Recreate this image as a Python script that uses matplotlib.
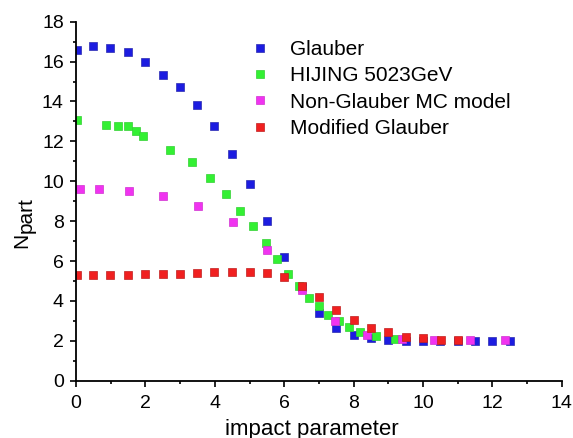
import numpy as np
import matplotlib.pyplot as plt
from matplotlib.ticker import MultipleLocator

plt.rcParams['font.family'] = ['Liberation Sans', 'DejaVu Sans']

# Glauber
b_gl = [0.03, 0.49, 0.99, 1.5, 2.0, 2.5, 3.0, 3.5, 3.98, 4.5, 5.0, 5.5, 6.0, 6.5,
        7.0, 7.5, 8.0, 8.5, 9.0, 9.5, 10.0, 10.5, 11.0, 11.5, 12.0, 12.5]
n_gl = [16.57, 16.8, 16.67, 16.5, 16.0, 15.35, 14.73, 13.83, 12.77, 11.37, 9.87, 8.0, 6.22, 4.7,
        3.4, 2.65, 2.28, 2.12, 2.03, 2.0, 2.0, 2.0, 2.0, 2.0, 2.0, 2.0]

# HIJING 5023GeV
b_hj = [0.03, 0.87, 1.21, 1.49, 1.73, 1.94, 2.72, 3.33, 3.85, 4.31, 4.74, 5.1, 5.47, 5.8,
        6.12, 6.42, 6.7, 7.0, 7.27, 7.57, 7.86, 8.19, 8.63, 9.19]
n_hj = [13.08, 12.82, 12.78, 12.78, 12.5, 12.25, 11.58, 10.97, 10.15, 9.37, 8.49, 7.74, 6.9, 6.09,
        5.37, 4.74, 4.15, 3.73, 3.28, 2.98, 2.68, 2.43, 2.25, 2.07]

# Non-Glauber MC model
b_ng = [0.13, 0.67, 1.53, 2.52, 3.53, 4.51, 5.5, 6.5, 7.47, 8.39, 9.38, 10.32, 11.34, 12.35]
n_ng = [9.62, 9.63, 9.52, 9.25, 8.78, 7.98, 6.57, 4.55, 2.98, 2.28, 2.07, 2.02, 2.02, 2.02]

# Modified Glauber
b_mg = [0.03, 0.49, 0.99, 1.5, 2.0, 2.5, 3.0, 3.5, 3.99, 4.5, 5.0, 5.5, 6.0, 6.5,
        7.0, 7.5, 8.0, 8.5, 9.0, 9.5, 10.0, 10.51, 11.0]
n_mg = [5.32, 5.32, 5.32, 5.3, 5.37, 5.37, 5.35, 5.42, 5.45, 5.45, 5.43, 5.38, 5.18, 4.75,
        4.18, 3.53, 3.03, 2.65, 2.43, 2.2, 2.12, 2.03, 2.03]

fig = plt.figure(figsize=(5.73, 4.38), dpi=100)
ax = fig.add_axes([0.1326, 0.1308, 0.848, 0.8196])

ms = 5.5
ax.plot(b_gl, n_gl, 's', color='#1c1ce0', mec='#2a2ab0', mew=0.5, ms=ms, label='Glauber')
ax.plot(b_hj, n_hj, 's', color='#33f033', mec='#33d033', mew=0.5, ms=ms, label='HIJING 5023GeV')
ax.plot(b_ng, n_ng, 's', color='#f033f0', mec='#d033d0', mew=0.5, ms=ms, label='Non-Glauber MC model')
ax.plot(b_mg, n_mg, 's', color='#f02020', mec='#c02020', mew=0.5, ms=ms, label='Modified Glauber')

ax.set_xlim(0, 14)
ax.set_ylim(0, 18)
ax.xaxis.set_major_locator(MultipleLocator(2))
ax.xaxis.set_minor_locator(MultipleLocator(1))
ax.yaxis.set_major_locator(MultipleLocator(2))
ax.yaxis.set_minor_locator(MultipleLocator(1))
ax.tick_params(which='major', direction='out', length=4.3, width=1.2, labelsize=14)
ax.tick_params(which='minor', direction='out', length=2.2, width=1.2)
ax.tick_params(axis='x', pad=6)
ax.tick_params(axis='y', pad=4.5)
for s in ['top', 'right']:
    ax.spines[s].set_visible(False)
for s in ['left', 'bottom']:
    ax.spines[s].set_linewidth(1.3)

# axis labels
fig.text(311.7 / 573, 1 - 434.5 / 438, 'impact parameter', fontsize=16, ha='center', va='baseline')
fig.text(27.7 / 573, 1 - 248 / 438, 'N', fontsize=15, rotation=90,
         rotation_mode='anchor', ha='left', va='baseline')
fig.text(32 / 573, 1 - 233 / 438, 'part', fontsize=15, rotation=90,
         rotation_mode='anchor', ha='left', va='baseline')

ax.legend(loc='upper left', bbox_to_anchor=(0.4356, 0.9087), bbox_transform=fig.transFigure,
          frameon=False, fontsize=15, borderpad=0, borderaxespad=0,
          handlelength=1.0, handletextpad=0.94, labelspacing=0.35, markerscale=1.05)

fig.savefig('out.png', dpi=100)
